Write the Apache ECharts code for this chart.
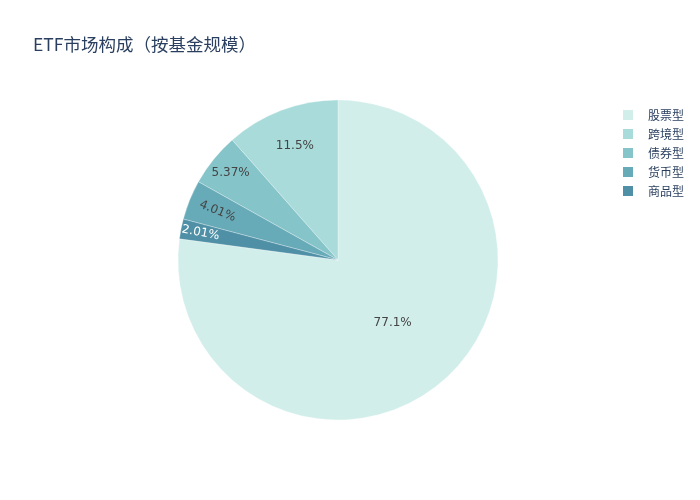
<!DOCTYPE html>
<html>
<head>
<meta charset="utf-8">
<script src="https://cdn.jsdelivr.net/npm/echarts@6/dist/echarts.min.js"></script>
<style>
  html, body { margin: 0; padding: 0; background: #fff; }
  #main { width: 700px; height: 500px; }
</style>
</head>
<body>
<div id="main"></div>
<script>
// 数据
const categories = ['股票型', '跨境型', '债券型', '货币型', '商品型'];
const shares = [77.1, 11.5, 5.37, 4.01, 2.01];
const colors = ['#d1eeea', '#a8dbd9', '#85c4c9', '#68abb8', '#4f90a6'];
const labelColors = ['#444', '#444', '#444', '#444', '#fff'];

const titleFont = '"Noto Sans CJK SC", sans-serif';
const labelFont = '"DejaVu Sans", sans-serif';
const R = 160;
// 每个标签所在环的内半径 (标签在环中间)
const labelInner = [0, 78, 110, 94, 114];
const total = shares.reduce((a, b) => a + b, 0);
// 第一块结束在12点方向, 逆时针排列
const startAngle = 90 + (1 - shares[0] / total) * 360;

function fmt(v) {
  return v >= 10 ? v.toFixed(1) : v.toFixed(2);
}

function ringData(k) {
  return categories.map((name, i) => ({
    name: name,
    value: shares[i],
    itemStyle: k === 0 ? { color: colors[i] } : { color: 'rgba(0,0,0,0)' },
    label: {
      show: i === k,
      color: labelColors[i],
      rotate: i >= 3 ? 'radial' : 0
    }
  }));
}

function pie(k) {
  return {
    type: 'pie',
    center: [338, 260],
    radius: [labelInner[k], R],
    clockwise: false,
    startAngle: startAngle,
    silent: k !== 0,
    data: ringData(k),
    label: {
      position: 'inside',
      fontFamily: labelFont,
      fontSize: 12,
      formatter: p => fmt(p.value) + '%'
    },
    itemStyle: k === 0 ? { borderColor: '#fff', borderWidth: 0.3 } : {},
    emphasis: { disabled: true }
  };
}

const myChart = echarts.init(document.getElementById('main'));
const option = {
  animation: false,
  title: {
    text: 'ETF市场构成（按基金规模）',
    left: 28,
    top: 31,
    textStyle: { fontFamily: titleFont, fontSize: 17.5, fontWeight: 'normal', color: '#2a3f5f' }
  },
  legend: {
    orient: 'vertical',
    left: 621,
    top: 108,
    padding: 0,
    icon: 'rect',
    itemWidth: 12,
    itemHeight: 12,
    itemGap: 5,
    data: categories,
    textStyle: { fontFamily: titleFont, fontSize: 12, lineHeight: 12, color: '#2a3f5f', padding: [0, 0, 0, 9] }
  },
  series: categories.map((c, k) => pie(k))
};
myChart.setOption(option);
</script>
</body>
</html>
